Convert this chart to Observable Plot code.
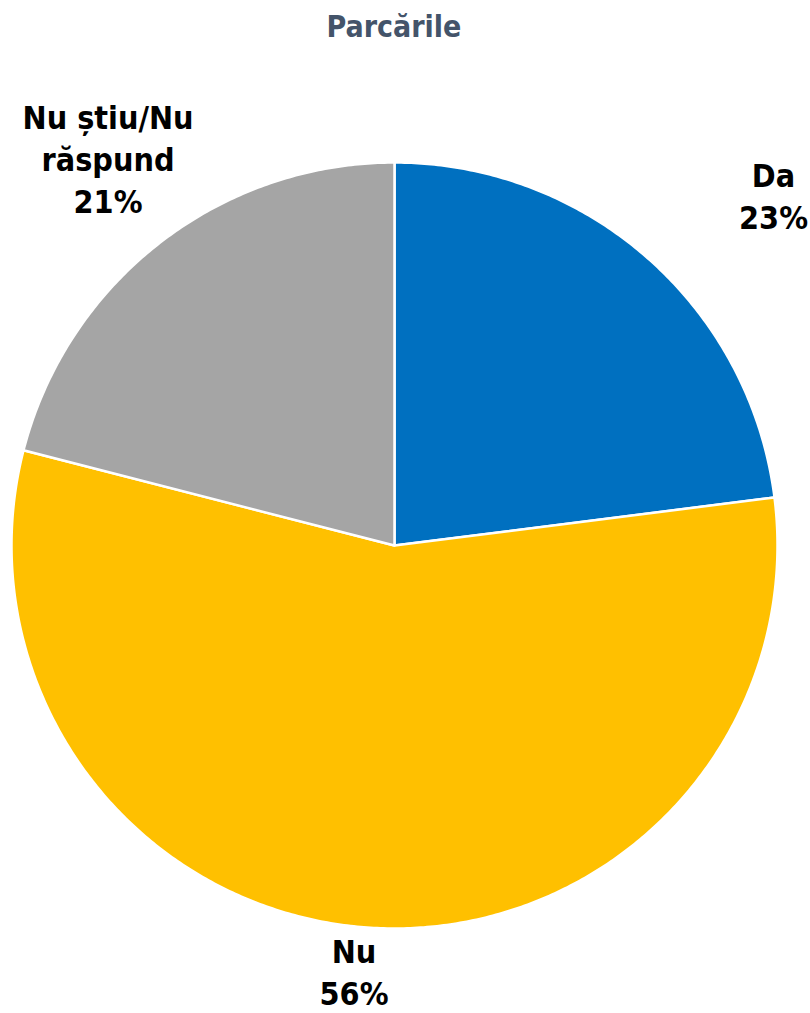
<!DOCTYPE html>
<html>
<head>
<meta charset="utf-8">
<script src="https://cdn.jsdelivr.net/npm/d3@7"></script>
<script src="https://cdn.jsdelivr.net/npm/@observablehq/plot@0.6"></script>
<style>
  html, body { margin: 0; padding: 0; background: #fff; }
  #title { width: 788px; height: 54px; line-height: 54px; text-align: center; font-family: "DejaVu Sans Condensed", "DejaVu Sans", sans-serif; font-weight: bold; font-size: 30px; color: #44546A; }
  #chart svg { display: block; }
</style>
</head>
<body>
<div id="title">Parcările</div>
<div id="chart"></div>
<script>
const categories = ["Da", "Nu", "Nu știu/Nu răspund"];
const values = [23, 56, 21];
const labels = ["Da\n23%", "Nu\n56%", "Nu știu/Nu\nrăspund\n21%"];
const colors = ["#0070C0", "#FFC000", "#A5A5A5"];
const labelPos = [[0.9896, 0.916], [-0.1057, -1.1096], [-0.748, 1.0118]];

const total = d3.sum(values);
const points = [];
let acc = 0;
categories.forEach((c, i) => {
  const a0 = acc / total * 2 * Math.PI;
  acc += values[i];
  const a1 = acc / total * 2 * Math.PI;
  points.push({key: c, x: 0, y: 0});
  const n = Math.max(2, Math.ceil((a1 - a0) / (Math.PI / 360)));
  for (let k = 0; k <= n; k++) {
    const a = a0 + (a1 - a0) * k / n;
    points.push({key: c, x: Math.sin(a), y: Math.cos(a)});
  }
  points.push({key: c, x: 0, y: 0});
});
const labelData = categories.map((c, i) => ({key: c, text: labels[i], x: labelPos[i][0], y: labelPos[i][1]}));

const cx = 394, cy = 491, r = 383;
const chart = Plot.plot({
  width: 810,
  height: 959,
  margin: 0,
  x: {domain: [-1, 1], range: [cx - r, cx + r], axis: null},
  y: {domain: [-1, 1], range: [cy + r, cy - r], axis: null},
  color: {domain: categories, range: colors},
  style: {fontFamily: "'DejaVu Sans Condensed', 'DejaVu Sans', sans-serif"},
  marks: [
    Plot.line(points, {x: "x", y: "y", z: "key", fill: "key", stroke: "white", strokeWidth: 2.5, strokeLinejoin: "round", curve: "linear-closed"}),
    Plot.text(labelData, {x: "x", y: "y", text: "text", fontSize: 32, fontWeight: "bold", fill: "black", lineHeight: 1.3125, textAnchor: "middle"})
  ]
});
document.getElementById("chart").appendChild(chart);
</script>
</body>
</html>
